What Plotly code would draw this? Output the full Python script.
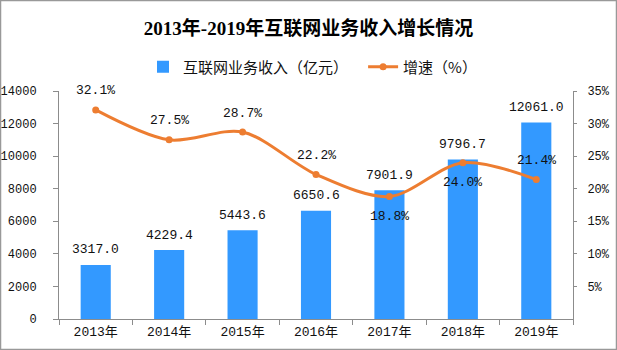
import plotly.graph_objects as go

years = ["2013年", "2014年", "2015年", "2016年", "2017年", "2018年", "2019年"]
revenue = [3317.0, 4229.4, 5443.6, 6650.6, 7901.9, 9796.7, 12061.0]
growth = [32.1, 27.5, 28.7, 22.2, 18.8, 24.0, 21.4]
growth_label_pos = ["above", "above", "above", "above", "below", "below", "above"]

left_ticks = [0, 2000, 4000, 6000, 8000, 10000, 12000, 14000]
right_ticks = [5, 10, 15, 20, 25, 30, 35]

W, H = 617, 350
ML, MR, MT, MB = 59, 44, 91, 31
PW, PH = W - ML - MR, H - MT - MB

BLUE = "#3399FF"
ORANGE = "#ED7D31"
AXIS = "#8C8C8C"
MONO = "Liberation Mono, Noto Sans CJK SC"

fig = go.Figure()
fig.add_trace(go.Bar(
    x=years, y=revenue, name="互联网业务收入（亿元）" + "\u00a0" * 3,
    marker=dict(color=BLUE, line=dict(width=0)), width=0.41,
))
fig.add_trace(go.Scatter(
    x=years, y=growth, name="增速（%）", yaxis="y2",
    mode="lines+markers",
    line=dict(color=ORANGE, width=3, shape="spline", smoothing=0.9),
    marker=dict(color=ORANGE, size=7),
))

annotations = []
for x, v in zip(years, revenue):
    annotations.append(dict(
        x=x, y=v, xref="x", yref="y", text=f"{v:.1f}", showarrow=False,
        yanchor="middle", yshift=15, font=dict(family=MONO, size=13, color="#111"),
    ))
for x, v, p in zip(years, growth, growth_label_pos):
    annotations.append(dict(
        x=x, y=v, xref="x", yref="y2", text=f"{v:.1f}%", showarrow=False,
        yanchor="middle", yshift=19 if p == "above" else -20,
        font=dict(family=MONO, size=13, color="#111"),
    ))

fig.update_layout(
    width=W, height=H,
    margin=dict(l=ML, r=MR, t=MT, b=MB, pad=0, autoexpand=False),
    paper_bgcolor="white", plot_bgcolor="white",
    title=dict(
        text="<b>2013年-2019年互联网业务收入增长情况</b>",
        x=0.5, xanchor="center", y=1 - 28 / H, yanchor="middle",
        font=dict(family="Liberation Serif, Noto Sans CJK SC", size=19, color="#000"),
    ),
    legend=dict(
        orientation="h", x=(143 - ML) / PW, xanchor="left", y=(319 - 67) / PH, yanchor="middle",
        font=dict(family="Noto Sans CJK SC", size=15, color="#111"),
        bgcolor="rgba(0,0,0,0)", itemwidth=30, tracegroupgap=0,
    ),
    showlegend=True,
    bargap=0.59,
    xaxis=dict(
        showline=True, linecolor=AXIS, linewidth=1, ticks="outside", tickson="boundaries",
        tickcolor=AXIS, ticklen=5, showgrid=False, automargin=False,
        tickfont=dict(family=MONO, size=13, color="#111"),
    ),
    yaxis=dict(
        range=[0, 14000], tickvals=left_ticks, ticktext=[str(t) for t in left_ticks],
        showline=True, linecolor=AXIS, linewidth=1, automargin=False,
        ticks="outside", tickcolor=AXIS, ticklen=5, showgrid=False, zeroline=False,
        tickfont=dict(family=MONO, size=12, color="#111"), ticklabelstandoff=14,
    ),
    yaxis2=dict(
        range=[0, 35], tickvals=right_ticks, ticktext=[f"{t}%" for t in right_ticks],
        overlaying="y", side="right", showline=True, linecolor=AXIS, linewidth=1,
        automargin=False,
        ticks="outside", tickcolor=AXIS, ticklen=3, showgrid=False, zeroline=False,
        tickfont=dict(family=MONO, size=12, color="#111"), ticklabelstandoff=8,
    ),
    annotations=annotations,
    shapes=[dict(
        type="rect", xref="paper", yref="paper", layer="above",
        x0=-(ML - 0.5) / PW, x1=1 + (MR - 0.5) / PW,
        y0=-(MB - 0.5) / PH, y1=1 + (MT - 0.5) / PH,
        line=dict(color="#999999", width=1.5), fillcolor="rgba(0,0,0,0)",
    )],
)

fig.write_html("out.html")
